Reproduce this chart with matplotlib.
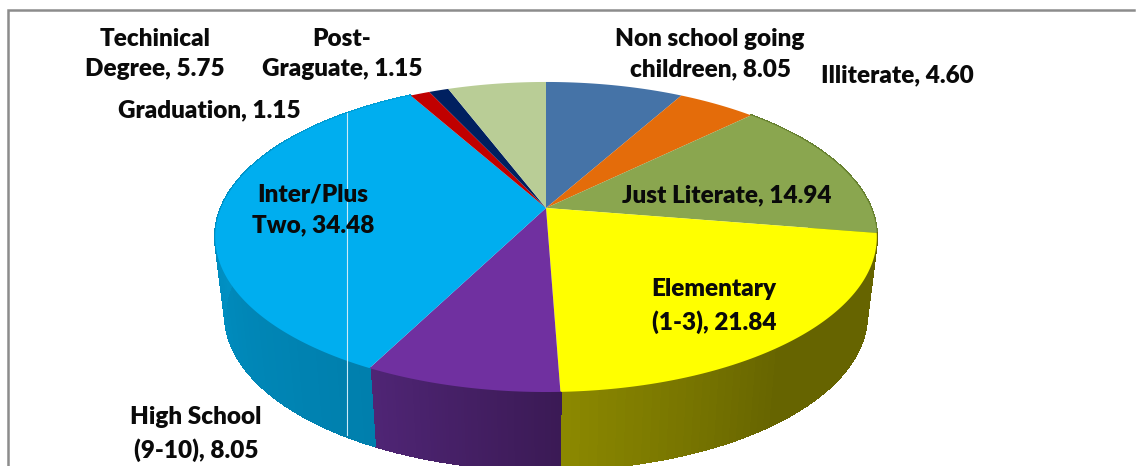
import numpy as np
import matplotlib
matplotlib.use("Agg")
import matplotlib.pyplot as plt
from matplotlib.colors import to_rgb

# education level shares, clockwise from 12 o'clock
categories = ["Non school going\nchildreen", "Illiterate", "Just Literate", "Elementary\n(1-3)",
              "High School\n(9-10)", "Inter/Plus\nTwo", "Graduation", "Post-\nGraguate", "Techinical\nDegree"]
values = [8.05, 4.60, 14.94, 21.84, 8.05, 34.48, 1.15, 1.15, 5.75]
colors = ["#4573A7", "#E46C0A", "#8AA64F", "#FFFF00", "#7030A0", "#00AEEF", "#C00000", "#002060", "#B9CD96"]
label_xy = [(710, 54), (897, 75), (727, 195), (714, 306), (196, 434), (313, 210), (209, 110), (342, 54), (155, 54)]

# wall shading, (start, end) going clockwise
wall_shades = {
    2: ("#66802F", "#66802F"),
    3: ("#666400", "#8B8800"),
    4: ("#3B1A55", "#4F2575"),
    5: ("#007FAD", "#00A0D8"),
}

CX, CY = 546, 208
A, B, K = 325, 149.6, 0.187
DEPTH = 78


def project(theta, drop=0.0, shrink=1.0):
    # circle to screen with a little perspective, theta clockwise from the top
    u, v = np.sin(theta), np.cos(theta)
    w = 1 + K * v
    return CX + shrink * A * u / w, CY - B * v / w + drop


fig = plt.figure(figsize=(11.42, 4.66), dpi=100)
ax = fig.add_axes([0, 0, 1, 1])
ax.set_xlim(0, 1142)
ax.set_ylim(466, 0)
ax.axis("off")

edges = np.concatenate([[0], np.cumsum(values)]) / sum(values) * 2 * np.pi

# side walls first, the top goes over them
for i, (start, end) in wall_shades.items():
    t = np.linspace(edges[i], edges[i + 1], 60)
    c0, c1 = np.array(to_rgb(start)), np.array(to_rgb(end))
    for j in range(len(t) - 1):
        f = j / (len(t) - 2)
        if i == 3:
            f = max(0, (f - 0.55) / 0.45)
        col = c0 + (c1 - c0) * f
        seg = np.array([t[j], t[j + 1]])
        x1, y1 = project(seg)
        x2, y2 = project(seg[::-1], DEPTH, 0.97)
        ax.fill(np.r_[x1, x2], np.r_[y1, y2], color=col, lw=1, antialiased=False, zorder=2)

# top face
for i, col in enumerate(colors):
    t = np.linspace(edges[i], edges[i + 1], 150)
    x, y = project(t)
    ax.fill(np.r_[CX, x], np.r_[CY, y], color=col, lw=0, zorder=3)

# stray light line across the blue slice
ax.plot([347, 347], [113, 435], color="#CDEBF7", lw=0.8, zorder=4)

# chart frame, left and top only
ax.plot([7.5, 7.5, 1134], [466, 9.5, 9.5], color="#8C8C8C", lw=1.8, zorder=1, solid_joinstyle="miter")

for name, val, (lx, ly) in zip(categories, values, label_xy):
    ax.text(lx, ly, f"{name}, {val:.2f}", ha="center", va="center", fontsize=17.5,
            family="Lato", fontweight="heavy", color="#0A0A0A", linespacing=1.5, zorder=5)

fig.savefig("out.png", dpi=100)
